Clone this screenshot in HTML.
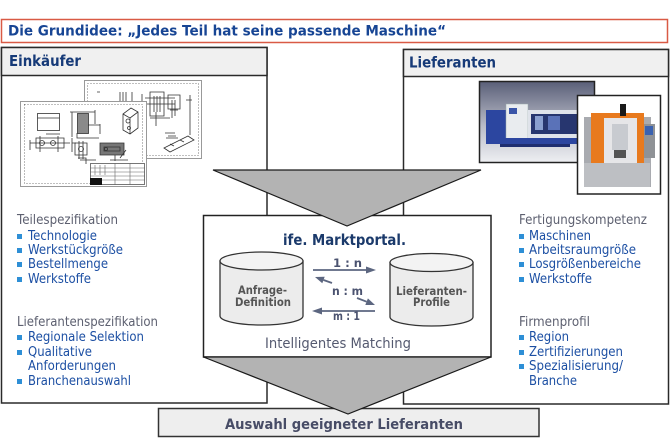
<!DOCTYPE html>
<html><head><meta charset="utf-8"><style>
html,body{margin:0;padding:0;background:#fff;}
svg{display:block;}
text{font-family:"DejaVu Sans","Liberation Sans",sans-serif;}
.b{font-weight:bold;}
.li{font-size:13px;fill:#1c4fa3;}
.hd{font-size:13px;fill:#5d6070;}
</style></head><body>
<svg width="670" height="438" viewBox="0 0 670 438" xmlns="http://www.w3.org/2000/svg">
<defs>
<linearGradient id="lg" x1="0" y1="0" x2="0" y2="1">
<stop offset="0" stop-color="#5a5f78"/><stop offset="0.55" stop-color="#b9bcc8"/><stop offset="1" stop-color="#eeeff2"/>
</linearGradient>
</defs>
<!-- title -->
<rect x="1.5" y="19.5" width="666" height="23" fill="#fff" stroke="#d95a45" stroke-width="1.5"/>
<text x="8" y="35.5" class="b" font-size="14.5" fill="#174594" textLength="438" lengthAdjust="spacingAndGlyphs">Die Grundidee: „Jedes Teil hat seine passende Maschine“</text>

<!-- left box -->
<rect x="1.5" y="47.5" width="265.5" height="355.5" fill="#fff" stroke="#2a2a2a" stroke-width="1.5"/>
<rect x="1.5" y="47.5" width="265.5" height="28" fill="#f0f0f0" stroke="#2a2a2a" stroke-width="1.5"/>
<text x="9" y="66" class="b" font-size="15.5" fill="#163a78" textLength="72" lengthAdjust="spacingAndGlyphs">Einkäufer</text>

<!-- back drawing -->
<rect x="84.5" y="80.5" width="117" height="78" fill="#fff" stroke="#999" stroke-width="1"/>
<rect x="87.5" y="83.5" width="111" height="72" fill="none" stroke="#555" stroke-width="0.8" stroke-dasharray="1 2"/>
<g stroke="#333" stroke-width="0.8" fill="none">
<path d="M97 92h3M120 92v22M123 92v22M126 92v22M132 92v10M142 94v20M150 92h14v24h-14zM154 96v16M157 96v16M160 96v16M168 95h12v14h-12zM172 100v18M178 110h-8M175 100v16"/>
<path d="M150 118h20M156 112v14M145 98h30M145 104h30"/>
<path d="M164 148l24-12l6 4l-24 12zM170 144l4 2M180 140l4 2M166 138h12M168 136h8"/>
<path d="M165 133h10M190 95v40M186 100h6"/>
</g>
<!-- front drawing -->
<rect x="20.5" y="101.5" width="126" height="85" fill="#fff" stroke="#999" stroke-width="1"/>
<rect x="24.5" y="104.5" width="118" height="79" fill="none" stroke="#555" stroke-width="0.8" stroke-dasharray="1 2"/>
<g stroke="#333" stroke-width="0.8" fill="none">
<rect x="37.5" y="113.5" width="22" height="17"/>
<path d="M37.5 118h22"/>
<rect x="77.5" y="113.5" width="11" height="20" fill="#8a8a8a"/>
<path d="M70 112h25M72 112v25M88 125h12M77 133v5h22M95 110v14M100 124v10"/>
<path d="M123 114l8-6l7 4v16l-8 6l-7-4zM123 114l7 4l8-6M130 118v16"/>
<circle cx="128" cy="121" r="2"/><circle cx="129" cy="128" r="1.5"/>
<path d="M36 138h28v10h-28zM40 136v16M58 136v16M30 143h40M46 134h14"/>
<circle cx="42" cy="143" r="2.5"/><circle cx="53" cy="143" r="2.5"/>
<path d="M72 143h4M72 138v14M30 140v10"/>
<path d="M75 143h12v12h-12zM79 141v18M83 141v18M78 158h8v6"/>
<circle cx="81" cy="149" r="2.5"/>
<path d="M100 143h24v12h-24zM104 147h16v4h-16z" fill="#777"/>
<circle cx="106" cy="149" r="1.5"/>
<path d="M80 160h16M110 160h18M120 158l6-8M115 155v6"/>
</g>
<rect x="90.5" y="163.5" width="54" height="21" fill="#fff" stroke="#555" stroke-width="0.8"/>
<g stroke="#666" stroke-width="0.6"><path d="M90 168h55M90 172h55M90 176h55M90 180h55M115 163v22M130 163v22M95 165v10M100 165v10M105 165v10"/></g>
<rect x="90" y="178" width="12" height="7" fill="#111"/>

<!-- right box -->
<rect x="403.5" y="49.5" width="265" height="354.5" fill="#fff" stroke="#2a2a2a" stroke-width="1.5"/>
<rect x="403.5" y="49.5" width="265" height="27" fill="#f0f0f0" stroke="#2a2a2a" stroke-width="1.5"/>
<text x="409" y="67.5" class="b" font-size="15.5" fill="#163a78" textLength="87" lengthAdjust="spacingAndGlyphs">Lieferanten</text>

<!-- laser photo -->
<rect x="479.5" y="81.5" width="115" height="81" fill="url(#lg)" stroke="#222" stroke-width="1.5"/>
<rect x="486" y="110" width="20" height="28" fill="#2c46a0"/>
<rect x="506" y="104" width="22" height="36" fill="#e9ecef" stroke="#9aa" stroke-width="0.5"/>
<rect x="509" y="108" width="8" height="6" fill="#3a55a8"/>
<rect x="528" y="110" width="60" height="33" fill="#dfe3ea"/>
<rect x="531" y="114" width="52" height="20" fill="#27366f"/>
<rect x="535" y="116" width="8" height="14" fill="#8aa0d0"/>
<rect x="548" y="116" width="12" height="14" fill="#5a72b8"/>
<rect x="486" y="138" width="100" height="6" fill="#2c46a0"/>
<rect x="500" y="144" width="70" height="3" fill="#1e2e70"/>

<!-- second machine photo -->
<rect x="577.5" y="95.5" width="83" height="98.5" fill="#fff" stroke="#222" stroke-width="1.5"/>
<rect x="584" y="117" width="67" height="70" fill="#a9abb0"/>
<rect x="584" y="163" width="66" height="24" fill="#bdbfc3"/>
<rect x="591" y="113" width="53" height="5" fill="#e87a1e"/>
<rect x="591" y="116" width="13" height="47" fill="#e87a1e"/>
<rect x="637" y="115" width="7" height="48" fill="#e87a1e"/>
<rect x="604" y="118" width="33" height="45" fill="#e6e6e8"/>
<rect x="612" y="124" width="16" height="26" fill="#c8cbd0"/>
<rect x="614" y="150" width="12" height="8" fill="#555"/>
<rect x="620" y="104" width="6" height="12" fill="#1a1a1a"/>
<rect x="644" y="124" width="11" height="34" fill="#8f9296"/>
<rect x="645" y="126" width="8" height="9" fill="#3a62b0"/>

<!-- bottom box -->
<rect x="158.5" y="408.5" width="380.5" height="28" fill="#eeeeee" stroke="#333" stroke-width="1.5"/>

<!-- center box -->
<rect x="203.5" y="215.5" width="287.5" height="141.5" fill="#fff" stroke="#222" stroke-width="1.5"/>
<polygon points="203.5,357 491,357 348,414" fill="#b3b3b3" stroke="#1a1a1a" stroke-width="1.2"/>
<polygon points="213,170 481,170 347,226" fill="#b3b3b3" stroke="#1a1a1a" stroke-width="1.2"/>

<text x="283" y="245" class="b" font-size="15" fill="#1b3a6b" textLength="123" lengthAdjust="spacingAndGlyphs">ife. Marktportal.</text>

<!-- cylinders -->
<path d="M220 261V316A41.5 9 0 0 0 303 316V261Z" fill="#ececec" stroke="#333" stroke-width="1.3"/>
<ellipse cx="261.5" cy="261" rx="41.5" ry="9" fill="#f3f3f3" stroke="#333" stroke-width="1.3"/>
<path d="M390 262.5V317A41.5 9 0 0 0 473 317V262.5Z" fill="#ececec" stroke="#333" stroke-width="1.3"/>
<ellipse cx="431.5" cy="262.5" rx="41.5" ry="9" fill="#f3f3f3" stroke="#333" stroke-width="1.3"/>
<text x="238" y="294" class="b" font-size="11.5" fill="#555" textLength="49" lengthAdjust="spacingAndGlyphs">Anfrage-</text>
<text x="235" y="306" class="b" font-size="11.5" fill="#555" textLength="56" lengthAdjust="spacingAndGlyphs">Definition</text>
<text x="396" y="295" class="b" font-size="11.5" fill="#555" textLength="71" lengthAdjust="spacingAndGlyphs">Lieferanten-</text>
<text x="413" y="306" class="b" font-size="11.5" fill="#555" textLength="37" lengthAdjust="spacingAndGlyphs">Profile</text>

<!-- arrows -->
<g stroke="#5c6680" stroke-width="1.8" fill="none">
<path d="M313 270H368"/>
<path d="M375 311H320"/>
<path d="M332 283L323.5 280"/>
<path d="M357 298L366.6 301.7"/>
</g>
<g fill="#5c6680">
<polygon points="376,270 366,266.5 366,273.5"/>
<polygon points="312,311 322,307.5 322,314.5"/>
<polygon points="315,277 324.7,276.7 322.3,283.3"/>
<polygon points="375,305 365.3,305 367.9,298.4"/>
</g>
<text x="333" y="267" class="b" font-size="11.5" fill="#4b5370" textLength="29" lengthAdjust="spacingAndGlyphs">1 : n</text>
<text x="332" y="295" class="b" font-size="11.5" fill="#4b5370" textLength="31" lengthAdjust="spacingAndGlyphs">n : m</text>
<text x="333" y="320" class="b" font-size="11.5" fill="#4b5370" textLength="27" lengthAdjust="spacingAndGlyphs">m : 1</text>

<text x="265" y="348" font-size="14" fill="#555a70" textLength="146" lengthAdjust="spacingAndGlyphs">Intelligentes Matching</text>

<text x="225" y="429" class="b" font-size="14.5" fill="#474c66" textLength="238" lengthAdjust="spacingAndGlyphs">Auswahl geeigneter Lieferanten</text>

<!-- left lists -->
<text x="17" y="224" class="hd" textLength="101" lengthAdjust="spacingAndGlyphs">Teilespezifikation</text>
<g fill="#2e8fd6">
<rect x="17" y="234" width="5" height="5"/><rect x="17" y="248" width="5" height="5"/><rect x="17" y="262" width="5" height="5"/><rect x="17" y="277" width="5" height="5"/>
<rect x="17" y="335" width="5" height="5"/><rect x="17" y="350" width="5" height="5"/><rect x="17" y="379" width="5" height="5"/>
<rect x="519" y="234" width="5" height="5"/><rect x="519" y="248" width="5" height="5"/><rect x="519" y="262" width="5" height="5"/><rect x="519" y="277" width="5" height="5"/>
<rect x="519" y="335" width="5" height="5"/><rect x="519" y="350" width="5" height="5"/><rect x="519" y="364" width="5" height="5"/>
</g>
<text x="28" y="240" class="li" textLength="69" lengthAdjust="spacingAndGlyphs">Technologie</text>
<text x="28" y="254" class="li" textLength="95" lengthAdjust="spacingAndGlyphs">Werkstückgröße</text>
<text x="28" y="268" class="li" textLength="80" lengthAdjust="spacingAndGlyphs">Bestellmenge</text>
<text x="28" y="283" class="li" textLength="63" lengthAdjust="spacingAndGlyphs">Werkstoffe</text>
<text x="17" y="326" class="hd" textLength="141" lengthAdjust="spacingAndGlyphs">Lieferantenspezifikation</text>
<text x="28" y="341" class="li" textLength="116" lengthAdjust="spacingAndGlyphs">Regionale Selektion</text>
<text x="28" y="356" class="li" textLength="64" lengthAdjust="spacingAndGlyphs">Qualitative</text>
<text x="28" y="370" class="li" textLength="88" lengthAdjust="spacingAndGlyphs">Anforderungen</text>
<text x="28" y="385" class="li" textLength="103" lengthAdjust="spacingAndGlyphs">Branchenauswahl</text>

<!-- right lists -->
<text x="519" y="224" class="hd" textLength="128" lengthAdjust="spacingAndGlyphs">Fertigungskompetenz</text>
<text x="529" y="240" class="li" textLength="62" lengthAdjust="spacingAndGlyphs">Maschinen</text>
<text x="529" y="254" class="li" textLength="107" lengthAdjust="spacingAndGlyphs">Arbeitsraumgröße</text>
<text x="529" y="268" class="li" textLength="112" lengthAdjust="spacingAndGlyphs">Losgrößenbereiche</text>
<text x="529" y="283" class="li" textLength="63" lengthAdjust="spacingAndGlyphs">Werkstoffe</text>
<text x="519" y="326" class="hd" textLength="71" lengthAdjust="spacingAndGlyphs">Firmenprofil</text>
<text x="529" y="341" class="li" textLength="40" lengthAdjust="spacingAndGlyphs">Region</text>
<text x="529" y="356" class="li" textLength="94" lengthAdjust="spacingAndGlyphs">Zertifizierungen</text>
<text x="529" y="370" class="li" textLength="94" lengthAdjust="spacingAndGlyphs">Spezialisierung/</text>
<text x="529" y="385" class="li" textLength="48" lengthAdjust="spacingAndGlyphs">Branche</text>
</svg>
</body></html>
